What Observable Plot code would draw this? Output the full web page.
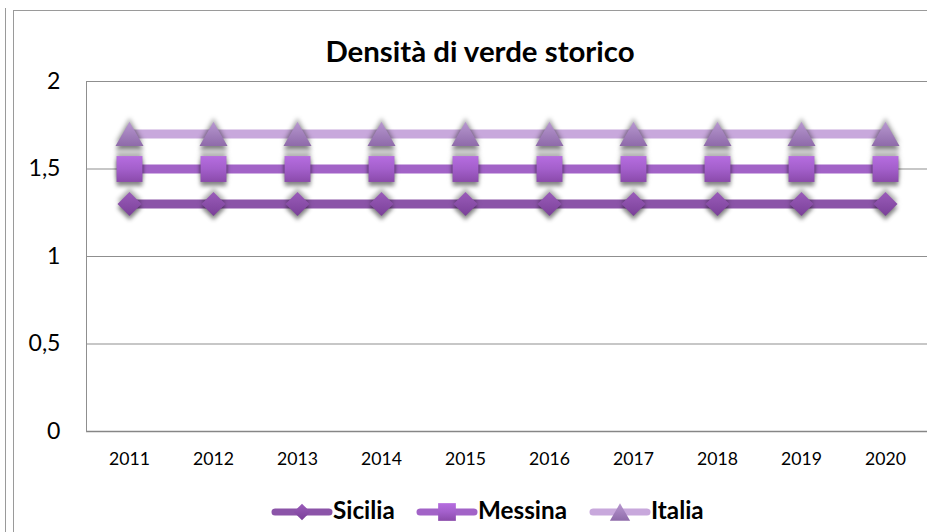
<!DOCTYPE html>
<html><head><meta charset="utf-8">
<script src="https://cdn.jsdelivr.net/npm/d3@7"></script>
<script src="https://cdn.jsdelivr.net/npm/@observablehq/plot@0.6"></script>
<style>
html,body{margin:0;padding:0;background:#fff;}
#wrap{position:relative;width:927px;height:532px;overflow:hidden;font-family:Lato,sans-serif;background:#fff;}
#wrap > svg{position:absolute;left:0;top:0;}
.bl{position:absolute;background:#9a9a9a;}
</style></head><body>
<svg width="0" height="0" style="position:absolute">
 <defs>
  <linearGradient id="gSic" x1="0" y1="0" x2="0" y2="1">
   <stop offset="0" stop-color="#9a5cba"/><stop offset="1" stop-color="#7a4098"/>
  </linearGradient>
  <linearGradient id="gMes" x1="0" y1="0" x2="0" y2="1">
   <stop offset="0" stop-color="#b66de0"/><stop offset="0.5" stop-color="#a35fcb"/><stop offset="1" stop-color="#8a4aaa"/>
  </linearGradient>
  <linearGradient id="gIta" x1="0" y1="0" x2="0" y2="1">
   <stop offset="0" stop-color="#b898d0"/><stop offset="1" stop-color="#8e6aa9"/>
  </linearGradient>
 </defs>
</svg>
<div id="wrap">
 <div class="bl" style="left:5px;top:8px;width:1px;height:530px"></div>
 <div class="bl" style="left:13px;top:10px;width:1px;height:530px"></div>
 <div class="bl" style="left:13px;top:10px;width:920px;height:1px"></div>
</div>
<script>
const years = [2011, 2012, 2013, 2014, 2015, 2016, 2017, 2018, 2019, 2020];
const sicilia = [1.3, 1.3, 1.3, 1.3, 1.3, 1.3, 1.3, 1.3, 1.3, 1.3];
const messina = [1.5, 1.5, 1.5, 1.5, 1.5, 1.5, 1.5, 1.5, 1.5, 1.5];
const italia  = [1.7, 1.7, 1.7, 1.7, 1.7, 1.7, 1.7, 1.7, 1.7, 1.7];
const seriesNames = ["Sicilia", "Messina", "Italia"];
const yTicks = [0, 0.5, 1, 1.5, 2];
const titleText = "Densità di verde storico";

const FAMILY = "Lato, sans-serif";
const ctx = document.createElement("canvas").getContext("2d");
function fit(text, weight, target) {
  ctx.font = `${weight} 100px ${FAMILY}`;
  return 100 * target / ctx.measureText(text).width;
}
const xSize = fit("2011", "normal", 41);
const ySize = fit("1,5", "normal", 32);
const titleSize = fit(titleText, "bold", 310);
const legSize = fit("Messina", "bold", 89);

const style = {
  Sicilia: {line: "#8b54a8", fill: "url(#gSic)", symbol: "diamond2", r: 10.8, dy: 0},
  Messina: {line: "#a263c7", fill: "url(#gMes)", symbol: "square", r: 14.6, dy: 0},
  Italia:  {line: "#c8a8dc", fill: "url(#gIta)", symbol: "triangle", r: 10.4, dy: 4}
};
const values = {Sicilia: sicilia, Messina: messina, Italia: italia};
const data = seriesNames.flatMap(s => years.map((y, i) => ({series: s, year: y, value: values[s][i]})));

const seriesMarks = ["Italia", "Messina", "Sicilia"].flatMap(s => {
  const d = data.filter(r => r.series === s);
  const st = style[s];
  return [
    Plot.line(d, {x: "year", y: "value", stroke: st.line, strokeWidth: 9, strokeLinecap: "round"}),
    Plot.dot(d, {x: "year", y: "value", symbol: st.symbol, r: st.r, dy: st.dy, fill: st.fill, stroke: "none"})
  ];
});

const chart = Plot.plot({
  width: 927, height: 532,
  marginLeft: 86, marginTop: 81, marginBottom: 101, marginRight: 0,
  x: {type: "band", domain: years, padding: 0},
  y: {domain: [0, 2]},
  style: {fontFamily: FAMILY, color: "#000", background: "transparent"},
  marks: [
    Plot.ruleY([0.5, 1, 1.5, 2], {stroke: "#8f8f8f", strokeWidth: 1}),
    Plot.ruleY([0], {stroke: "#868686", strokeWidth: 1.5}),
    Plot.frame({anchor: "left", stroke: "#8f8f8f"}),
    Plot.axisY({ticks: yTicks, tickFormat: d => String(d).replace(".", ","), tickSize: 0, tickPadding: 26, fontSize: ySize, label: null}),
    Plot.axisX({tickSize: 0, tickPadding: 21, fontSize: xSize, tickFormat: d => String(d), label: null}),
    ...seriesMarks
  ]
});
chart.querySelectorAll('g[aria-label="dot"]').forEach(g => {
  g.style.filter = "drop-shadow(0px 4px 2px rgba(0,0,0,0.45)) drop-shadow(0px -4px 2px rgba(0,0,0,0.3))";
});
const wrap = document.getElementById("wrap");
wrap.appendChild(chart);

// Title and legend overlay
const ov = d3.select(wrap).append("svg").attr("width", 927).attr("height", 532)
  .style("font-family", FAMILY);
ov.append("text").attr("x", 480).attr("y", 62).attr("text-anchor", "middle")
  .attr("font-weight", "bold").attr("font-size", titleSize).attr("fill", "#000").text(titleText);

const legendPos = {Sicilia: 272, Messina: 417, Italia: 590};
const legR = {Sicilia: 7.5, Messina: 10, Italia: 7.5};
const symMap = {diamond2: d3.symbolDiamond2, square: d3.symbolSquare, triangle: d3.symbolTriangle};
seriesNames.forEach(s => {
  const x0 = legendPos[s], st = style[s];
  const g = ov.append("g");
  g.append("line").attr("x1", x0 + 3).attr("x2", x0 + 57).attr("y1", 512).attr("y2", 512)
    .attr("stroke", st.line).attr("stroke-width", 7).attr("stroke-linecap", "round");
  g.append("path").attr("d", d3.symbol(symMap[st.symbol], Math.PI * legR[s] ** 2)())
    .attr("transform", `translate(${x0 + 30},${512 + (s === "Italia" ? 3 : 0)})`)
    .attr("fill", st.fill);
  g.append("text").attr("x", x0 + 61).attr("y", 519).attr("font-weight", "bold")
    .attr("font-size", legSize).attr("fill", "#000").text(s);
});
</script>
</body></html>
